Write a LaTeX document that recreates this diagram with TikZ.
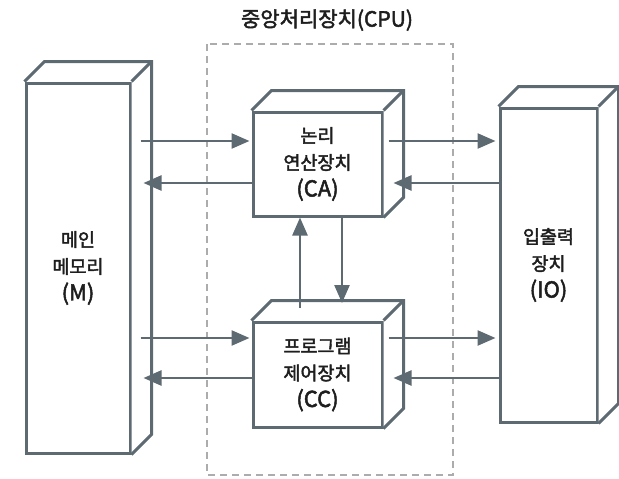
\documentclass[tikz,border=0pt]{standalone}
\usepackage{fontspec}
\setmainfont{Noto Sans CJK KR}[FakeBold=2.2]
\usetikzlibrary{arrows.meta}
\definecolor{slate}{RGB}{94,106,114}
\definecolor{dashgray}{RGB}{172,172,172}
\definecolor{txt}{RGB}{30,30,30}
\newcommand{\latline}[1]{{\fontsize{22}{27}\selectfont #1}}
\tikzset{
  x=1pt, y=-1pt,
  front/.style={draw=slate, line width=3pt, fill=white, rectangle, inner sep=0pt,
    text=txt, align=center, font=\fontsize{18.5}{27}\selectfont},
  face/.style={draw=slate, line width=3pt, line join=miter},
  arr/.style={draw=slate, line width=2.5pt, -{Triangle[length=18pt,width=15pt]}},
  cpubox/.style={draw=dashgray, line width=2pt, dash pattern=on 7pt off 5pt},
}
\newcommand{\cubefaces}[1]{%
  \fill[white] (#1.north west) -- ++(20,-20) -- ([shift={(20,-20)}]#1.north east)
     -- ([shift={(20,-20)}]#1.south east) -- (#1.south east) -- (#1.north east) -- cycle;
  \draw[face] (#1.north west) -- ++(20,-20) -- ([shift={(20,-20)}]#1.north east)
     -- ([shift={(20,-20)}]#1.south east) -- (#1.south east);
  \draw[face] (#1.north east) -- ++(20,-20);
}
\begin{document}
\begin{tikzpicture}
\useasboundingbox (0,0) rectangle (619,479);
% CPU dashed frame
\node[draw=none, inner sep=0pt, text=txt, font=\fontsize{21}{24}\selectfont] (cpulabel) at (327,20) {중앙처리장치(CPU)};
\draw[cpubox] (207,44) rectangle (453,475);
% boxes
\node[front, minimum width=104pt, minimum height=370pt] (M) at (78,268) {메인\\메모리\\\latline{(M)}};
\cubefaces{M}
\node[front, minimum width=129pt, minimum height=104pt] (CA) at (317.5,164) {논리\\연산장치\\\latline{(CA)}};
\cubefaces{CA}
\node[front, minimum width=129pt, minimum height=105pt] (CC) at (317.5,374.5) {프로그램\\제어장치\\\latline{(CC)}};
\cubefaces{CC}
\node[front, minimum width=97pt, minimum height=314pt] (IO) at (548.5,265) {입출력\\장치\\\latline{(IO)}};
\cubefaces{IO}
% arrows M <-> CA
\draw[arr] ([xshift=9pt]M.east |- 0,141) -- ([xshift=-2pt]CA.west |- 0,141);
\draw[arr] (CA.west |- 0,183) -- ([xshift=12pt]M.east |- 0,183);
% arrows CA <-> IO
\draw[arr] ([xshift=5pt]CA.east |- 0,141) -- ([xshift=-3pt]IO.west |- 0,141);
\draw[arr] (IO.west |- 0,183) -- ([xshift=10pt]CA.east |- 0,183);
% arrows M <-> CC
\draw[arr] ([xshift=9pt]M.east |- 0,338) -- ([xshift=-2pt]CC.west |- 0,338);
\draw[arr] (CC.west |- 0,378) -- ([xshift=12pt]M.east |- 0,378);
% arrows CC <-> IO
\draw[arr] ([xshift=5pt]CC.east |- 0,338) -- ([xshift=-3pt]IO.west |- 0,338);
\draw[arr] (IO.west |- 0,378) -- ([xshift=10pt]CC.east |- 0,378);
% vertical arrows
\draw[arr] (300,308) -- (CA.south -| 300,0);
\draw[arr] (CA.south -| 342,0) -- (342,303);
\end{tikzpicture}
\end{document}
